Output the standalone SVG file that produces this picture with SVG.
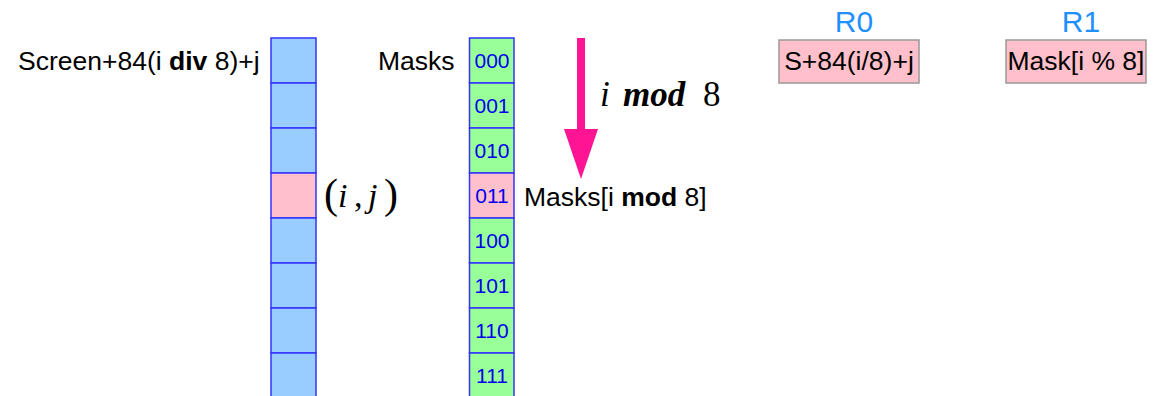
<svg xmlns="http://www.w3.org/2000/svg" width="1157" height="396" viewBox="0 0 1157 396">
<style>
.lbl{font-family:"Liberation Sans",Arial,sans-serif;font-size:26.5px;fill:#000}
.scr{fill:#99CCFF;stroke:#3333FF;stroke-width:1.5}
.msk{fill:#99FF99;stroke:#3333FF;stroke-width:1.5}
.hl{fill:#FFC0CB}
.dig{font-family:"Liberation Sans",Arial,sans-serif;font-size:21px;fill:#0000EE;text-anchor:middle}
.reg{fill:#FFC0CB;stroke:#999;stroke-width:1.5}
.rt{font-family:"Liberation Sans",Arial,sans-serif;font-size:30px;fill:#1E90FF;text-anchor:middle}
.math{font-family:"Liberation Serif","Times New Roman",serif;fill:#000}
</style>
<rect width="1157" height="396" fill="#fff"/>
<g id="screen">
<text class="lbl" x="18" y="70">Screen+84(i <tspan font-weight="bold">div</tspan> 8)+j</text>
<rect class="scr" x="271" y="38" width="45" height="45"/>
<rect class="scr" x="271" y="83" width="45" height="45"/>
<rect class="scr" x="271" y="128" width="45" height="45"/>
<rect class="scr hl" x="271" y="173" width="45" height="45"/>
<rect class="scr" x="271" y="218" width="45" height="45"/>
<rect class="scr" x="271" y="263" width="45" height="45"/>
<rect class="scr" x="271" y="308" width="45" height="45"/>
<rect class="scr" x="271" y="353" width="45" height="45"/>
</g>
<g id="ij">
<text class="math" x="324" y="208" font-size="42">(</text>
<text class="math" x="338" y="207" font-size="34" font-style="italic">i</text>
<text class="math" x="354" y="207" font-size="34">,</text>
<text class="math" x="368" y="207" font-size="34" font-style="italic">j</text>
<text class="math" x="384" y="208" font-size="42">)</text>
</g>
<g id="masks">
<text class="lbl" x="378" y="70">Masks</text>
<rect class="msk" x="469.5" y="38" width="44.5" height="45"/>
<rect class="msk" x="469.5" y="83" width="44.5" height="45"/>
<rect class="msk" x="469.5" y="128" width="44.5" height="45"/>
<rect class="msk hl" x="469.5" y="173" width="44.5" height="45"/>
<rect class="msk" x="469.5" y="218" width="44.5" height="45"/>
<rect class="msk" x="469.5" y="263" width="44.5" height="45"/>
<rect class="msk" x="469.5" y="308" width="44.5" height="45"/>
<rect class="msk" x="469.5" y="353" width="44.5" height="45"/>
<text class="dig" x="492" y="68">000</text>
<text class="dig" x="492" y="113">001</text>
<text class="dig" x="492" y="158">010</text>
<text class="dig" x="492" y="203">011</text>
<text class="dig" x="492" y="248">100</text>
<text class="dig" x="492" y="293">101</text>
<text class="dig" x="492" y="338">110</text>
<text class="dig" x="492" y="383">111</text>
<text class="lbl" x="524" y="206">Masks[i <tspan font-weight="bold">mod</tspan> 8]</text>
</g>
<g id="connectors">
<rect x="577" y="38" width="8" height="92" fill="#FF1493"/>
<polygon points="564,129 598,129 581,179" fill="#FF1493"/>
</g>
<g id="modlabel">
<text class="math" y="106" font-size="35"><tspan x="600" font-style="italic">i</tspan><tspan x="623" font-style="italic" font-weight="bold">mod</tspan><tspan x="703">8</tspan></text>
</g>
<g id="R0">
<text class="rt" x="854" y="32">R0</text>
<rect class="reg" x="779" y="40" width="140" height="43"/>
<text class="lbl" x="849" y="70" text-anchor="middle">S+84(i/8)+j</text>
</g>
<g id="R1">
<text class="rt" x="1081" y="32">R1</text>
<rect class="reg" x="1006" y="40" width="140" height="43"/>
<text class="lbl" x="1076" y="70" text-anchor="middle">Mask[i % 8]</text>
</g>
</svg>
